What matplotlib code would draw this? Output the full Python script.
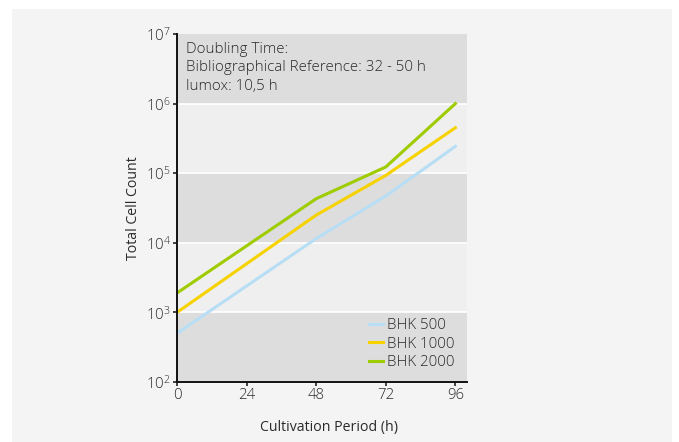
import matplotlib
matplotlib.use('Agg')
import matplotlib.pyplot as plt
from matplotlib.patches import Rectangle
from matplotlib.ticker import FixedLocator, NullLocator

plt.rcParams['font.family'] = ['Open Sans', 'DejaVu Sans']
plt.rcParams['font.weight'] = 'light'

hours = [0, 48, 72, 96]
bhk500 = [500, 11500, 47000, 243000]
bhk1000 = [1000, 25000, 93000, 450000]
bhk2000 = [1900, 43000, 123000, 1000000]
series = [('BHK 500', bhk500, '#b8def5'),
          ('BHK 1000', bhk1000, '#f6d200'),
          ('BHK 2000', bhk2000, '#9fcc00')]
x_ticks = [0, 24, 48, 72, 96]
decades = [2, 3, 4, 5, 6, 7]

TXT = '#2a2a2a'

fig = plt.figure(figsize=(6.79, 4.42), dpi=100, facecolor='white')
# light grey panel behind everything
fig.patches.append(Rectangle((12 / 679, 0), 660 / 679, 433 / 442,
                             transform=fig.transFigure, facecolor='#f4f4f4',
                             edgecolor='none', zorder=-5))

ax = fig.add_axes([177 / 679, 60 / 442, 290 / 679, 348 / 442])
ax.set_zorder(2)
ax.set_facecolor('none')
ax.set_yscale('log')
ax.set_xlim(0, 100)
ax.set_ylim(1e2, 1e7)

# alternating bands
for i, d in enumerate(decades[:-1]):
    col = '#dddddd' if i % 2 == 0 else '#efefef'
    ax.axhspan(10 ** d, 10 ** (d + 1), facecolor=col, edgecolor='none', zorder=0)
for d in decades[1:-1]:
    ax.axhline(10 ** d, color='white', lw=1.2, zorder=1)

for name, vals, col in series:
    ax.plot(hours, vals, color=col, lw=2.2, label=name, zorder=3)

ax.xaxis.set_major_locator(FixedLocator(x_ticks))
ax.yaxis.set_major_locator(FixedLocator([10 ** d for d in decades]))
ax.yaxis.set_minor_locator(NullLocator())
ax.set_yticklabels([r'$\mathregular{10^{%d}}$' % d for d in decades])
ax.tick_params(axis='both', direction='out', length=3, width=1.2,
               colors='#222222', labelcolor=TXT, labelsize=10.8, pad=1.5)

for s in ['top', 'right']:
    ax.spines[s].set_visible(False)
for s in ['left', 'bottom']:
    ax.spines[s].set_linewidth(1.4)
    ax.spines[s].set_color('#111111')
    ax.spines[s].set_zorder(4)

ax.set_xlabel('Cultivation Period (h)', fontsize=10.2, color=TXT)
ax.xaxis.label.set_va('center')
ax.xaxis.set_label_coords(0.524, -(427 - 382) / 348)
ax.set_ylabel('Total Cell Count', fontsize=10.2, color=TXT, labelpad=3)

ax.text(3, 7.8e6, 'Doubling Time:\nBibliographical Reference: 32 - 50 h\nlumox: 10,5 h',
        fontsize=10.9, color=TXT, va='top', ha='left', linespacing=1.32)

leg = ax.legend(loc='lower right', frameon=False, fontsize=10.9, handlelength=0.9,
                handletextpad=0.3, labelspacing=0.22, borderaxespad=0.4)
for t in leg.get_texts():
    t.set_color(TXT)

fig.savefig('out.png', dpi=100, facecolor='white')
